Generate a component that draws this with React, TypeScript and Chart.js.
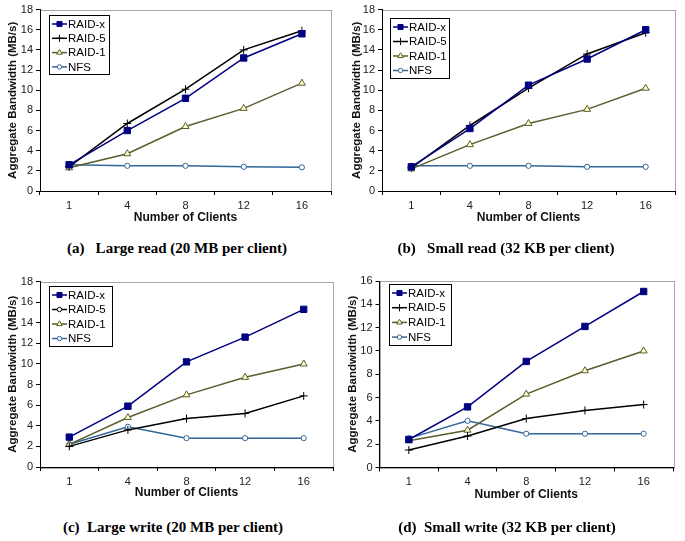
import React, { useEffect, useRef } from 'react';
import { Chart, registerables } from 'chart.js';
import { drawPoint } from 'chart.js/helpers';

Chart.register(...registerables);

const clients = ['1', '4', '8', '12', '16'];
const seriesNames = ['RAID-x', 'RAID-5', 'RAID-1', 'NFS'];

// (a) Large read
const largeReadRaidX = [2.6, 6.0, 9.2, 13.2, 15.6];
const largeReadRaid5 = [2.4, 6.7, 10.1, 14.0, 15.9];
const largeReadRaid1 = [2.3, 3.7, 6.4, 8.2, 10.7];
const largeReadNfs = [2.6, 2.5, 2.5, 2.4, 2.35];

// (b) Small read
const smallReadRaidX = [2.4, 6.2, 10.5, 13.1, 16.0];
const smallReadRaid5 = [2.3, 6.5, 10.2, 13.6, 15.7];
const smallReadRaid1 = [2.2, 4.6, 6.7, 8.1, 10.2];
const smallReadNfs = [2.5, 2.5, 2.5, 2.4, 2.4];

// (c) Large write
const largeWriteRaidX = [2.9, 5.9, 10.2, 12.6, 15.3];
const largeWriteRaid5 = [2.0, 3.6, 4.7, 5.2, 6.9];
const largeWriteRaid1 = [2.2, 4.8, 7.0, 8.7, 10.0];
const largeWriteNfs = [2.2, 3.9, 2.8, 2.8, 2.8];

// (d) Small write
const smallWriteRaidX = [2.4, 5.2, 9.1, 12.1, 15.1];
const smallWriteRaid5 = [1.5, 2.7, 4.2, 4.9, 5.4];
const smallWriteRaid1 = [2.3, 3.2, 6.3, 8.3, 10.0];
const smallWriteNfs = [2.5, 4.0, 2.9, 2.9, 2.9];

const yTitle = 'Aggregate Bandwidth (MB/s)';
const xTitle = 'Number of Clients';

const SANS = '"Liberation Sans", Arial, sans-serif';

const styles = [
  { color: '#000080', fill: '#000080', pointStyle: 'rect', radius: 4.5, legendRadius: 3.6 },
  { color: '#000000', fill: '#000000', pointStyle: 'cross', radius: 4, legendRadius: 3.6 },
  { color: '#5c5c2e', fill: '#ffffcc', pointStyle: 'triangle', radius: 4, legendRadius: 3.2 },
  { color: '#336699', fill: '#ffffff', pointStyle: 'circle', radius: 2.6, legendRadius: 2.2 },
];

const framePlugin = {
  id: 'plotFrame',
  beforeDraw(chart: any) {
    const { ctx, chartArea } = chart;
    ctx.save();
    ctx.fillStyle = '#ffffff';
    ctx.fillRect(chartArea.left, chartArea.top, chartArea.right - chartArea.left, chartArea.bottom - chartArea.top);
    ctx.strokeStyle = '#a6a6a6';
    ctx.lineWidth = 1;
    ctx.strokeRect(
      Math.round(chartArea.left) + 0.5,
      Math.round(chartArea.top) + 0.5,
      Math.round(chartArea.right - chartArea.left),
      Math.round(chartArea.bottom - chartArea.top)
    );
    ctx.restore();
  },
};

const boxLegend = {
  id: 'boxLegend',
  afterDatasetsDraw(chart: any, _args: any, opts: any) {
    const { ctx, chartArea } = chart;
    const x = Math.round(chartArea.left + opts.dx);
    const y = Math.round(chartArea.top + opts.dy);
    ctx.save();
    ctx.fillStyle = '#ffffff';
    ctx.fillRect(x, y, opts.w, opts.h);
    ctx.strokeStyle = '#000000';
    ctx.lineWidth = 1;
    ctx.strokeRect(x + 0.5, y + 0.5, opts.w, opts.h);
    chart.data.datasets.forEach((ds: any, i: number) => {
      const st = styles[i];
      const cy = y + opts.first + i * opts.gap;
      ctx.strokeStyle = st.color;
      ctx.lineWidth = 1.5;
      ctx.beginPath();
      ctx.moveTo(x + 3, cy);
      ctx.lineTo(x + 18, cy);
      ctx.stroke();
      const override = opts.legendStyles && opts.legendStyles[i] && opts.legendStyles[i] !== st.pointStyle;
      const ps = override ? opts.legendStyles[i] : st.pointStyle;
      ctx.fillStyle = override ? '#ffffff' : st.fill;
      ctx.strokeStyle = st.color;
      ctx.lineWidth = 1;
      drawPoint(ctx, { pointStyle: ps, radius: override ? 2.2 : st.legendRadius, borderWidth: 1, rotation: 0 } as any, x + 10.5, cy);
      ctx.fillStyle = '#000000';
      ctx.font = `11.5px ${SANS}`;
      ctx.textBaseline = 'middle';
      ctx.textAlign = 'left';
      ctx.fillText(ds.label, x + 19, cy + 0.5);
    });
    ctx.restore();
  },
};

type PanelProps = {
  left: number;
  top: number;
  width: number;
  height: number;
  padTop: number;
  padRight: number;
  yWidth: number;
  xHeight: number;
  yTitlePad: number;
  yMax: number;
  series: number[][];
  legend: { dx: number; dy: number; w: number; h: number; first: number; gap: number; legendStyles?: string[] };
};

function Panel(p: PanelProps) {
  const ref = useRef<HTMLCanvasElement | null>(null);
  useEffect(() => {
    if (!ref.current) return;
    const chart = new Chart(ref.current, {
      type: 'line',
      data: {
        labels: clients,
        datasets: p.series.map((vals, i) => ({
          label: seriesNames[i],
          data: vals,
          borderColor: styles[i].color,
          backgroundColor: styles[i].fill,
          pointBackgroundColor: styles[i].fill,
          pointBorderColor: styles[i].color,
          pointStyle: styles[i].pointStyle as any,
          pointRadius: styles[i].radius,
          pointBorderWidth: 1,
          borderWidth: 1.5,
          tension: 0,
          fill: false,
        })),
      },
      options: {
        animation: false,
        responsive: false,
        devicePixelRatio: 1,
        layout: { padding: { top: p.padTop, right: p.padRight, left: 0, bottom: 0 } },
        plugins: {
          legend: { display: false },
          tooltip: { enabled: false },
          boxLegend: p.legend,
        } as any,
        scales: {
          x: {
            type: 'category',
            offset: true,
            grid: { offset: true, drawOnChartArea: false, drawTicks: true, tickLength: 4, color: '#000000' },
            border: { display: true, color: '#000000', width: 1 },
            ticks: { color: '#222222', padding: 4, font: { family: SANS, size: 11 }, maxRotation: 0 },
            title: { display: true, text: xTitle, color: '#111111', padding: { top: 0, bottom: 0 }, font: { family: SANS, size: 12, weight: 'bold' } },
            afterFit: (s: any) => { s.height = p.xHeight; },
          },
          y: {
            min: 0,
            max: p.yMax,
            ticks: { stepSize: 2, color: '#222222', padding: 3, font: { family: SANS, size: 11 } },
            grid: { drawOnChartArea: false, drawTicks: true, tickLength: 4, color: '#000000' },
            border: { display: true, color: '#000000', width: 1 },
            title: { display: true, text: yTitle, color: '#111111', padding: { top: p.yTitlePad, bottom: 0 }, font: { family: SANS, size: 11.5, weight: 'bold' } },
            afterFit: (s: any) => { s.width = p.yWidth; },
          },
        },
      } as any,
      plugins: [framePlugin, boxLegend],
    });
    return () => chart.destroy();
  }, []);
  return (
    <canvas
      ref={ref}
      width={p.width}
      height={p.height}
      style={{ position: 'absolute', left: p.left, top: p.top, width: p.width, height: p.height }}
    />
  );
}

const captionStyle: React.CSSProperties = {
  position: 'absolute',
  transform: 'translate(-50%, -50%)',
  whiteSpace: 'pre',
  fontFamily: '"Liberation Serif", "Times New Roman", serif',
  fontWeight: 'bold',
  fontSize: 15,
  color: '#000',
};

export default function App() {
  return (
    <div style={{ position: 'fixed', left: 0, top: 0, width: 685, height: 541, background: '#fff', overflow: 'hidden' }}>
      <Panel
        left={0} top={0} width={340} height={225}
        padTop={5} padRight={9} yWidth={40} xHeight={34} yTitlePad={5.5} yMax={18}
        series={[largeReadRaidX, largeReadRaid5, largeReadRaid1, largeReadNfs]}
        legend={{ dx: 9, dy: 5, w: 60, h: 59, first: 9, gap: 14.3 }}
      />
      <Panel
        left={340} top={0} width={345} height={225}
        padTop={5} padRight={10} yWidth={42} xHeight={34} yTitlePad={10} yMax={18}
        series={[smallReadRaidX, smallReadRaid5, smallReadRaid1, smallReadNfs]}
        legend={{ dx: 8, dy: 8, w: 59, h: 60, first: 9, gap: 14.5 }}
      />
      <Panel
        left={0} top={262} width={345} height={238}
        padTop={19.5} padRight={12} yWidth={40} xHeight={33} yTitlePad={5.5} yMax={18}
        series={[largeWriteRaidX, largeWriteRaid5, largeWriteRaid1, largeWriteNfs]}
        legend={{ dx: 9, dy: 4, w: 63, h: 60, first: 9, gap: 14.5, legendStyles: ['rect', 'circle', 'triangle', 'circle'] }}
      />
      <Panel
        left={340} top={262} width={345} height={240}
        padTop={19} padRight={12} yWidth={39.5} xHeight={34.5} yTitlePad={5.5} yMax={16}
        series={[smallWriteRaidX, smallWriteRaid5, smallWriteRaid1, smallWriteNfs]}
        legend={{ dx: 9, dy: 3, w: 62, h: 61, first: 9, gap: 14.7 }}
      />
      <div style={{ ...captionStyle, left: 177, top: 248 }}>{'(a)   Large read (20 MB per client)'}</div>
      <div style={{ ...captionStyle, left: 506, top: 248 }}>{'(b)   Small read (32 KB per client)'}</div>
      <div style={{ ...captionStyle, left: 173, top: 527 }}>{'(c)  Large write (20 MB per client)'}</div>
      <div style={{ ...captionStyle, left: 507, top: 527 }}>{'(d)  Small write (32 KB per client)'}</div>
    </div>
  );
}
